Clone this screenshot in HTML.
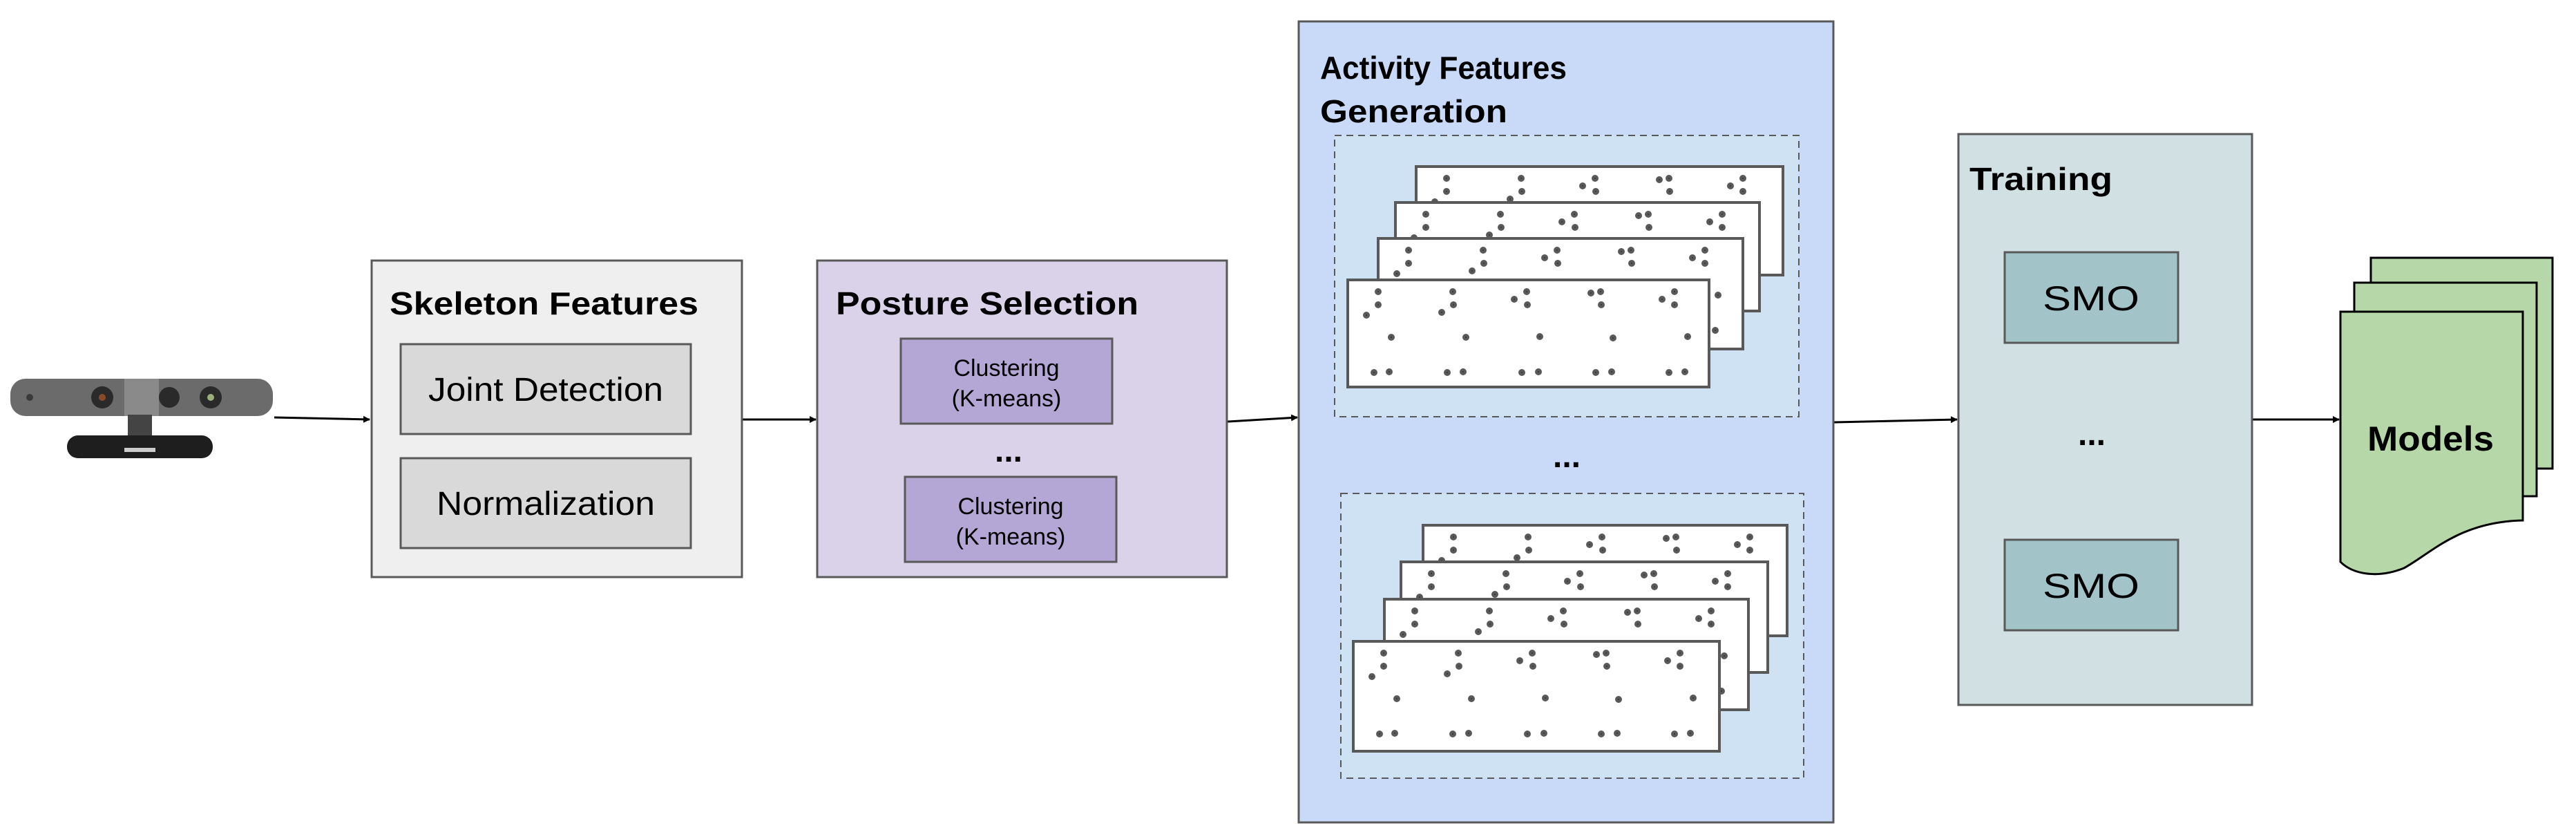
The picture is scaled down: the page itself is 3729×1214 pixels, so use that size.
<!DOCTYPE html>
<html><head><meta charset="utf-8"><style>
html,body{margin:0;padding:0;background:#fff;}
svg{display:block;font-family:"Liberation Sans",Arial,sans-serif;}
</style></head><body>
<svg width="3729" height="1214" viewBox="0 0 3729 1214" xmlns="http://www.w3.org/2000/svg">
<defs>
<marker id="ah" markerWidth="10" markerHeight="10" refX="9" refY="5" orient="auto" markerUnits="userSpaceOnUse">
<path d="M0,0 L10,5 L0,10 z" fill="#000"/>
</marker>
<g id="dots" fill="#333">
<circle cx="44" cy="17" r="3"/><circle cx="44" cy="36" r="3"/><circle cx="27" cy="51" r="3"/><circle cx="63" cy="83" r="3"/><circle cx="38" cy="134" r="3"/><circle cx="60" cy="133" r="3"/>
<circle cx="152" cy="17" r="3"/><circle cx="153" cy="36" r="3"/><circle cx="136" cy="47" r="3"/><circle cx="171" cy="83" r="3"/><circle cx="144" cy="134" r="3"/><circle cx="167" cy="133" r="3"/>
<circle cx="259" cy="17" r="3"/><circle cx="241" cy="28" r="3"/><circle cx="260" cy="36" r="3"/><circle cx="278" cy="82" r="3"/><circle cx="252" cy="134" r="3"/><circle cx="276" cy="133" r="3"/>
<circle cx="366" cy="17" r="3"/><circle cx="352" cy="19" r="3"/><circle cx="367" cy="36" r="3"/><circle cx="384" cy="84" r="3"/><circle cx="359" cy="134" r="3"/><circle cx="382" cy="133" r="3"/>
<circle cx="473" cy="17" r="3"/><circle cx="455" cy="28" r="3"/><circle cx="473" cy="36" r="3"/><circle cx="492" cy="82" r="3"/><circle cx="465" cy="134" r="3"/><circle cx="488" cy="133" r="3"/>
</g>
</defs>

<!-- Camera -->
<rect x="15" y="548" width="380" height="54" rx="22" fill="#6b6b6b"/>
<rect x="180" y="548" width="50" height="54" fill="#8a8a8a"/>
<circle cx="148" cy="575" r="16" fill="#2a2a2a"/><circle cx="148" cy="575" r="5" fill="#8a4a2a"/>
<circle cx="245" cy="575" r="15" fill="#2a2a2a"/>
<circle cx="305" cy="575" r="16" fill="#2a2a2a"/><circle cx="305" cy="575" r="5" fill="#9ab07a"/>
<circle cx="43" cy="575" r="5" fill="#3a3a3a"/>
<rect x="185" y="600" width="35" height="32" fill="#444"/>
<rect x="97" y="630" width="211" height="33" rx="16" fill="#1e1e1e"/>
<rect x="180" y="648" width="45" height="6" fill="#ccc"/>

<!-- Arrows -->
<line x1="397" y1="604" x2="535" y2="607" stroke="#000" stroke-width="3" marker-end="url(#ah)"/>
<line x1="1074" y1="607" x2="1181" y2="607" stroke="#000" stroke-width="3" marker-end="url(#ah)"/>
<line x1="1777" y1="610" x2="1878" y2="604" stroke="#000" stroke-width="3" marker-end="url(#ah)"/>
<line x1="2655" y1="611" x2="2833" y2="607" stroke="#000" stroke-width="3" marker-end="url(#ah)"/>
<line x1="3261" y1="607" x2="3386" y2="607" stroke="#000" stroke-width="3" marker-end="url(#ah)"/>

<!-- Skeleton Features -->
<rect x="538" y="377" width="536" height="458" fill="#efefef" stroke="#595959" stroke-width="3"/>
<text x="564" y="455" font-size="46" font-weight="bold" fill="#000" textLength="447" lengthAdjust="spacingAndGlyphs">Skeleton Features</text>
<rect x="580" y="498" width="420" height="130" fill="#d9d9d9" stroke="#595959" stroke-width="3"/>
<text x="620" y="580" font-size="48" fill="#000" textLength="340" lengthAdjust="spacingAndGlyphs">Joint Detection</text>
<rect x="580" y="663" width="420" height="130" fill="#d9d9d9" stroke="#595959" stroke-width="3"/>
<text x="632" y="745" font-size="48" fill="#000" textLength="316" lengthAdjust="spacingAndGlyphs">Normalization</text>

<!-- Posture Selection -->
<rect x="1183" y="377" width="593" height="458" fill="#d9d2e9" stroke="#595959" stroke-width="3"/>
<text x="1210" y="455" font-size="46" font-weight="bold" fill="#000" textLength="438" lengthAdjust="spacingAndGlyphs">Posture Selection</text>
<rect x="1304" y="490" width="306" height="123" fill="#b4a7d6" stroke="#595959" stroke-width="3"/>
<text x="1457" y="544" font-size="34" text-anchor="middle" fill="#000">Clustering</text>
<text x="1457" y="588" font-size="34" text-anchor="middle" fill="#000">(K-means)</text>
<text x="1460" y="668" font-size="48" font-weight="bold" text-anchor="middle" fill="#000">...</text>
<rect x="1310" y="690" width="306" height="123" fill="#b4a7d6" stroke="#595959" stroke-width="3"/>
<text x="1463" y="744" font-size="34" text-anchor="middle" fill="#000">Clustering</text>
<text x="1463" y="788" font-size="34" text-anchor="middle" fill="#000">(K-means)</text>

<!-- Activity Features Generation -->
<rect x="1880" y="31" width="774" height="1159" fill="#c9daf8" stroke="#595959" stroke-width="3"/>
<text x="1911" y="114" font-size="46" font-weight="bold" fill="#000" textLength="357" lengthAdjust="spacingAndGlyphs">Activity Features</text>
<text x="1911" y="177" font-size="46" font-weight="bold" fill="#000" textLength="271" lengthAdjust="spacingAndGlyphs">Generation</text>

<rect x="1932" y="196" width="672" height="407" fill="#cfe2f3" stroke="#595959" stroke-width="2" stroke-dasharray="10,7"/>
<g stroke="#595959" stroke-width="4" fill="#fff">
<rect x="2050" y="241" width="531" height="157" />
<use href="#dots" x="2050" y="241"/>
<rect x="2020" y="293" width="527" height="157"/>
<use href="#dots" x="2020" y="293"/>
<rect x="1995" y="345" width="528" height="160"/>
<use href="#dots" x="1995" y="345"/>
<rect x="1951" y="405" width="523" height="155"/>
<use href="#dots" x="1951" y="405"/>
</g>

<text x="2268" y="676" font-size="48" font-weight="bold" text-anchor="middle" fill="#000">...</text>

<rect x="1941" y="714" width="670" height="412" fill="#cfe2f3" stroke="#595959" stroke-width="2" stroke-dasharray="10,7"/>
<g stroke="#595959" stroke-width="4" fill="#fff">
<rect x="2060" y="760" width="527" height="160"/>
<use href="#dots" x="2060" y="760"/>
<rect x="2028" y="813" width="531" height="160"/>
<use href="#dots" x="2028" y="813"/>
<rect x="2004" y="867" width="527" height="160"/>
<use href="#dots" x="2004" y="867"/>
<rect x="1959" y="928" width="530" height="159"/>
<use href="#dots" x="1959" y="928"/>
</g>

<!-- Training -->
<rect x="2835" y="194" width="425" height="826" fill="#d0e0e3" stroke="#595959" stroke-width="3"/>
<text x="2851" y="275" font-size="46" font-weight="bold" fill="#000" textLength="207" lengthAdjust="spacingAndGlyphs">Training</text>
<rect x="2902" y="365" width="251" height="131" fill="#a2c4c9" stroke="#595959" stroke-width="3"/>
<text x="2957" y="449" font-size="50" fill="#000" textLength="140" lengthAdjust="spacingAndGlyphs">SMO</text>
<text x="3028" y="644" font-size="48" font-weight="bold" text-anchor="middle" fill="#000">...</text>
<rect x="2902" y="781" width="251" height="131" fill="#a2c4c9" stroke="#595959" stroke-width="3"/>
<text x="2957" y="865" font-size="50" fill="#000" textLength="140" lengthAdjust="spacingAndGlyphs">SMO</text>

<!-- Models -->
<rect x="3432" y="373" width="263" height="305" fill="#b6d7a8" stroke="#000" stroke-width="3"/>
<rect x="3408" y="409" width="264" height="309" fill="#b6d7a8" stroke="#000" stroke-width="3"/>
<path d="M3388,451 L3652,451 L3652,753 C3560,755 3520,800 3480,822 C3440,838 3405,830 3388,813 Z" fill="#b6d7a8" stroke="#000" stroke-width="3"/>
<text x="3427" y="652" font-size="50" font-weight="bold" fill="#000" textLength="183" lengthAdjust="spacingAndGlyphs">Models</text>
</svg>
</body></html>
